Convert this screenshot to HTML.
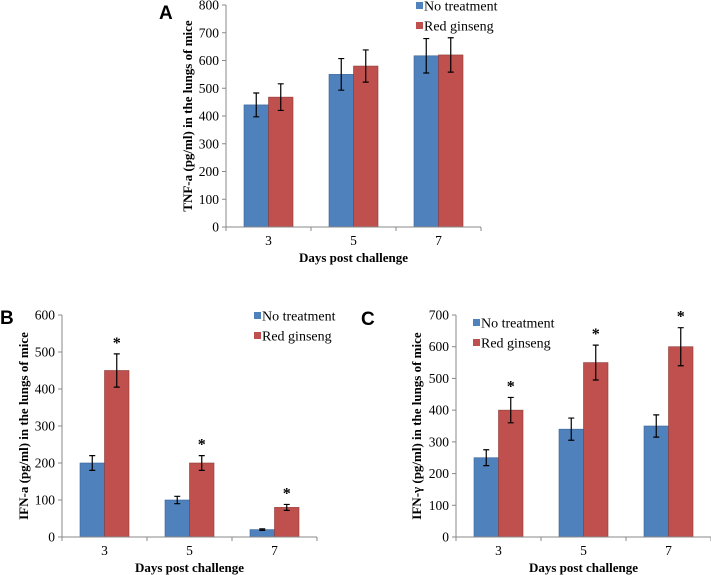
<!DOCTYPE html>
<html><head><meta charset="utf-8">
<style>
body{margin:0;background:#fff;width:711px;height:575px;overflow:hidden}
svg{display:block}
</style></head>
<body>
<svg id="fig" width="711" height="575"></svg>
<script>
const categories = ["3","5","7"];
const seriesNames = ["No treatment","Red ginseng"];
const aBlue = [440,550,617], aRed = [468,580,620];
const aBlueErr = [43,57,62], aRedErr = [48,58,62];
const bBlue = [200,100,20], bRed = [450,200,80];
const bBlueErr = [20,10,2], bRedErr = [45,20,8];
const cBlue = [250,340,350], cRed = [400,550,600];
const cBlueErr = [25,35,35], cRedErr = [40,55,60];
const aTicks = [0,100,200,300,400,500,600,700,800];
const bTicks = [0,100,200,300,400,500,600];
const cTicks = [0,100,200,300,400,500,600,700];

const NS="http://www.w3.org/2000/svg";
const SERIF='"Liberation Serif", "DejaVu Serif", serif';
const svg=document.getElementById('fig');
function mk(tag,attrs,parent,txt){const e=document.createElementNS(NS,tag);for(const k in attrs)e.setAttribute(k,attrs[k]);if(txt!==undefined){e.textContent=txt;if(!attrs['font-family'])e.setAttribute('font-family',SERIF);e.style.fontFamily=attrs['font-family']||SERIF;}(parent||svg).appendChild(e);return e;}

function panel(cfg){
  const g=mk('g',{});
  
  
  const ymax=cfg.ticks[cfg.ticks.length-1];
  const y=v=>cfg.y0-(v/ymax)*(cfg.y0-cfg.yTop);
  const catW=(cfg.xEnd-cfg.ax)/categories.length;
  const cx=i=>cfg.ax+catW*(i+0.5);
  const bw=24.5;
  [[cfg.blue,cfg.blueErr,'#4f81bd','#3a6595','blue'],[cfg.red,cfg.redErr,'#c0504d','#8e3b39','red']].forEach((s,si)=>{
    s[0].forEach((v,i)=>{
      const x=si===0?cx(i)-bw:cx(i);
      const r=mk('rect',{x:x,y:y(v),width:bw,height:cfg.y0-y(v),fill:s[2],stroke:s[3],'stroke-width':0.6},g);
      
      
      const ex=x+bw/2, hi=y(v+s[1][i]), lo=y(v-s[1][i]);
      const eb=mk('path',{d:`M${ex},${hi}V${lo}M${ex-3},${hi}H${ex+3}M${ex-3},${lo}H${ex+3}`,stroke:'#000','stroke-width':1.2,fill:'none'},g);
      
      
      if(cfg.star&&si===1){
        const st=mk('text',{x:ex,y:hi-6,'text-anchor':'middle','font-size':'16px','font-weight':'bold'},g,'*');
        
        
      }
    });
  });
  mk('path',{d:`M${cfg.ax},${cfg.yTop}V${cfg.y0}H${cfg.xEnd}`,stroke:'#888','stroke-width':1,fill:'none'},g);
  cfg.ticks.forEach(t=>{
    mk('line',{x1:cfg.ax-4,x2:cfg.ax,y1:y(t),y2:y(t),stroke:'#888'},g);
    const tl=mk('text',{x:cfg.ax-7,y:y(t)+4.5,'text-anchor':'end','font-size':'13.5px'},g,String(t));
    
    
  });
  for(let i=0;i<=categories.length;i++) mk('line',{x1:cfg.ax+catW*i,x2:cfg.ax+catW*i,y1:cfg.y0,y2:cfg.y0+4,stroke:'#888'},g);
  categories.forEach((c,i)=>{
    const tl=mk('text',{x:cx(i),y:cfg.y0+18,'text-anchor':'middle','font-size':'13.5px'},g,c);
    
    
  });
  const xt=mk('text',{x:cx(1),y:cfg.y0+35,'text-anchor':'middle','font-size':'13px','font-weight':'bold'},g,'Days post challenge');
  
  
  const yc=(cfg.y0+cfg.yTop)/2;
  const yt=mk('text',{x:cfg.ytx,y:yc,'text-anchor':'middle','font-size':'13px','font-weight':'bold',transform:`rotate(-90 ${cfg.ytx} ${yc})`},g,cfg.ytitle);
  
  
  const pl=mk('text',{x:cfg.plx,y:cfg.ply,'font-family':'"Liberation Sans", sans-serif','font-weight':'bold','font-size':'19px'},g,cfg.id);
  
  
  ['#4f81bd','#c0504d'].forEach((c,i)=>{
    const ly=cfg.ly+i*cfg.lgap;
    const le=mk('g',{},g);
    
    
    mk('rect',{x:cfg.lx,y:ly-4,width:7,height:7,fill:c},le);
    mk('text',{x:cfg.lx+8,y:ly+4.5,'font-size':'14px'},le,seriesNames[i]);
  });
}
panel({id:'A',ax:226,xEnd:481,y0:227,yTop:5,ticks:aTicks,blue:aBlue,red:aRed,blueErr:aBlueErr,redErr:aRedErr,star:false,ytx:192,ytitle:'TNF-a (pg/ml) in the lungs of mice',plx:159,ply:19,lx:416,ly:6,lgap:20});
panel({id:'B',ax:62,xEnd:317,y0:537,yTop:315,ticks:bTicks,blue:bBlue,red:bRed,blueErr:bBlueErr,redErr:bRedErr,star:true,ytx:28,ytitle:'IFN-a (pg/ml) in the lungs of mice',plx:0,ply:324,lx:254,ly:316,lgap:20});
panel({id:'C',ax:456,xEnd:711,y0:537,yTop:315,ticks:cTicks,blue:cBlue,red:cRed,blueErr:cBlueErr,redErr:cRedErr,star:true,ytx:421,ytitle:'IFN-γ (pg/ml) in the lungs of mice',plx:361,ply:325,lx:473,ly:323,lgap:20});
</script>
</body></html>
